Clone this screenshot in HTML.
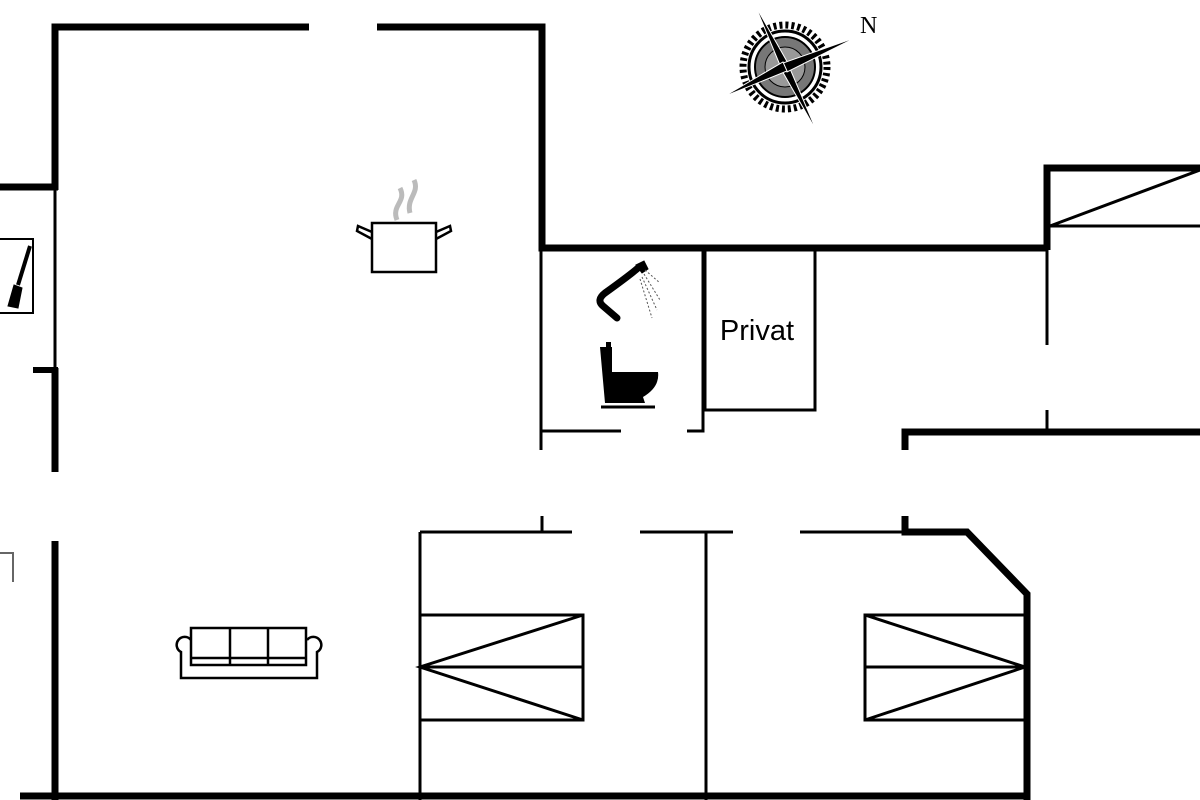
<!DOCTYPE html>
<html><head><meta charset="utf-8"><style>html,body{margin:0;padding:0;background:#fff;}svg{display:block}</style></head>
<body>
<svg width="1200" height="800" viewBox="0 0 1200 800" xmlns="http://www.w3.org/2000/svg">
<g stroke="#000" fill="none" stroke-linecap="butt">
<g stroke-width="7">
<polyline points="309,27 55,27 55,190"/>
<polyline points="377,27 542,27 542,248 1047,248"/>
<line x1="0" y1="187" x2="58" y2="187"/>
<line x1="55" y1="368" x2="55" y2="472"/>
<line x1="55" y1="541" x2="55" y2="800"/>
<line x1="20" y1="796" x2="1030" y2="796"/>
<polyline points="1047,250 1047,168 1200,168"/>
<polyline points="905,450 905,432 1200,432"/>
<polyline points="905,516 905,532 967,532 1027,594 1027,800"/>
</g>
<line x1="33" y1="370" x2="58" y2="370" stroke-width="6"/>
<g stroke-width="3">
<line x1="55" y1="190" x2="55" y2="370"/>
<line x1="541" y1="248" x2="541" y2="450"/>
<polyline points="541,431 621,431"/>
<polyline points="687,431 703,431 703,250"/>
<polyline points="705,250 705,410 815,410 815,250"/>
<line x1="1047" y1="250" x2="1047" y2="345"/>
<line x1="1047" y1="410" x2="1047" y2="430"/>
<line x1="1050" y1="226" x2="1200" y2="226"/>
<line x1="1050" y1="226" x2="1200" y2="170"/>
<line x1="420" y1="532" x2="572" y2="532"/>
<line x1="542" y1="516" x2="542" y2="532"/>
<line x1="640" y1="532" x2="733" y2="532"/>
<line x1="800" y1="532" x2="905" y2="532"/>
<line x1="420" y1="532" x2="420" y2="800"/>
<line x1="706" y1="532" x2="706" y2="800"/>
<rect x="420" y="615" width="163" height="105"/>
<line x1="420" y1="667" x2="583" y2="667"/>
<polyline points="583,615 420,667 583,720"/>
<rect x="865" y="615" width="160" height="105"/>
<line x1="865" y1="667" x2="1025" y2="667"/>
<polyline points="865,615 1025,667 865,720"/>
</g>
<rect x="-2" y="239" width="35" height="74" stroke-width="2"/>
<line x1="30" y1="246" x2="18" y2="285" stroke-width="4"/>
<path d="M14,285 l8,3 l-4,20 l-10,-2 z" fill="#000"/>
<polyline points="0,553 13,553 13,582" stroke="#666" stroke-width="2"/>
<g stroke-width="2.5">
<rect x="372" y="223" width="64" height="49"/>
<path d="M372,232 l-14,-6 l-1,5 l15,8"/>
<path d="M436,232 l14,-6 l1,5 l-15,8"/>
</g>
<path d="M397,220 c-6,-15 10,-18 3,-32" stroke="#bbb" stroke-width="5"/>
<path d="M410,213 c-4,-15 10,-20 4,-33" stroke="#bbb" stroke-width="5"/>
<g stroke-width="2.5">
<rect x="191" y="628" width="115" height="37"/>
<line x1="230" y1="628" x2="230" y2="665"/>
<line x1="268" y1="628" x2="268" y2="665"/>
<line x1="191" y1="658" x2="306" y2="658"/>
<path d="M191,640 a8,8 0 1 0 -10,12 v26 h136 v-26 a8,8 0 1 0 -10,-12"/>
</g>
<path d="M638,268 Q630,275 605,293 Q596,300 603,306 L617,318" stroke-width="7" stroke-linecap="round" stroke-linejoin="round"/>
<path d="M636,265 l8,-4 l4,8 l-6,4z" fill="#000"/>
<g stroke-width="1" stroke-dasharray="2,2" stroke="#555">
<line x1="645" y1="270" x2="660" y2="283"/>
<line x1="644" y1="274" x2="660" y2="300"/>
<line x1="642" y1="277" x2="657" y2="310"/>
<line x1="640" y1="279" x2="652" y2="318"/>
</g>
<path d="M600,347 h12 v25 h46 q2,15 -15,25 l2,6 h-40 z" fill="#000" stroke="none"/>
<rect x="606" y="342" width="5" height="6" fill="#000" stroke="none"/>
<line x1="601" y1="407" x2="655" y2="407" stroke-width="3"/>
<g transform="translate(785,67)">
<circle r="42" stroke="#000" stroke-width="7" stroke-dasharray="3,3"/>
<circle r="36" fill="#fff" stroke="#000" stroke-width="3"/>
<circle r="30" fill="#777" stroke="#000" stroke-width="2"/>
<circle r="20" fill="#999"/>
<g fill="#000" stroke="#fff" stroke-width="1">
<path d="M-30,-62 L4,-2 L-3,3 Z"/>
<path d="M32,65 L-4,2 L3,-3 Z"/>
<path d="M72,-30 L2,5 L-2,-4 Z"/>
<path d="M-62,30 L-2,-5 L2,4 Z"/>
</g>
</g>
<text x="860" y="33" font-family="Liberation Serif, serif" font-size="24" fill="#000" stroke="none">N</text>
<text x="757" y="340" font-family="Liberation Sans, sans-serif" font-size="29" fill="#000" stroke="none" text-anchor="middle">Privat</text>
</g>
</svg>
</body></html>
